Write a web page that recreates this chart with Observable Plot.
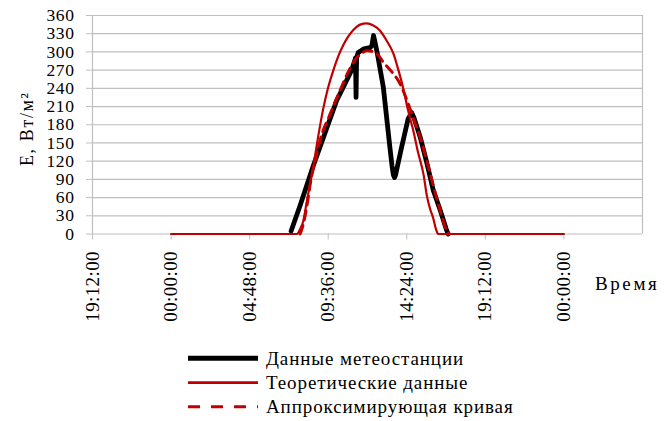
<!DOCTYPE html>
<html>
<head>
<meta charset="utf-8">
<script src="https://cdn.jsdelivr.net/npm/d3@7"></script>
<script src="https://cdn.jsdelivr.net/npm/@observablehq/plot@0.6"></script>
<style>
  body { margin: 0; background: #fff; }
  #chart { width: 668px; height: 421px; font-family: "Liberation Serif", "Times New Roman", serif; }
  #chart svg { display: block; overflow: visible; }
  g[aria-label="y-axis tick label"] text { letter-spacing: 0.6px; }
  .xlab text { letter-spacing: 0.4px; }
  .ytitle text { letter-spacing: 1.6px; }
  .xtitle text { letter-spacing: 2.6px; }
  .legend text { letter-spacing: 0.9px; }
</style>
</head>
<body>
<div id="chart"></div>
<script>
// Weather-station irradiance (time of day, W/m²)
const stationTime = ["07:20","07:53","08:41","10:07","10:38","11:02","11:13","11:16","11:18","11:20","11:26","11:47","12:09","12:16","12:22","12:28","12:35","12:58","13:22","13:30","13:35","13:39","13:43","13:48","14:05","14:29","14:42","14:50","15:13","15:37","16:01","16:26","16:50","16:56"];
const stationValue = [5, 47, 112, 220, 248, 270, 285, 290, 225, 290, 299, 305, 307, 310, 327, 315, 300, 242, 143, 112, 97, 93, 97, 108, 143, 190, 200, 192, 160, 118, 72, 40, 6, 0];

// Theoretical irradiance over the day
const theoryTime = ["00:00","07:41","07:53","08:05","08:18","08:41","08:59","09:18","09:35","09:55","10:13","10:31","11:08","11:33","11:57","12:20","12:46","13:11","13:35","13:52","14:11","14:28","14:48","15:05","15:25","15:38","15:49","16:01","16:11","16:19","24:00"];
const theoryValue = [0, 0, 8, 22, 55, 110, 160, 207, 240, 270, 293, 311, 336, 345, 347, 344, 335, 318, 297, 272, 240, 205, 170, 135, 99, 62, 42, 26, 8, 0, 0];

// Fitted (approximating) curve
const fitTime = ["07:53","08:04","08:17","08:33","08:54","09:13","09:36","09:57","10:19","10:55","11:20","11:39","11:58","12:16","12:35","12:58","13:35","14:00","14:18","14:37","14:51","15:13","15:37","16:01","16:26","16:48","16:59"];
const fitValue = [0, 15, 44, 90, 132, 165, 190, 213, 236, 272, 290, 298, 302, 301, 297, 283, 264, 247, 228, 205, 187, 160, 121, 80, 40, 8, 0];

// Axis ticks: x in fractions of a day (Excel-style serial time)
const xTicks = [-0.2, 0, 0.2, 0.4, 0.6, 0.8, 1.0];
const xTickLabels = ["19:12:00","00:00:00","04:48:00","09:36:00","14:24:00","19:12:00","00:00:00"];
const yTicks = [0, 30, 60, 90, 120, 150, 180, 210, 240, 270, 300, 330, 360];

const seriesNames = ["Данные метеостанции", "Теоретические данные", "Аппроксимирующая кривая"];
const red = "#c00000";
const grid = "#bfbfbf";
const font = '"Liberation Serif", "Times New Roman", serif';

const toDay = s => { const [h, m] = s.split(":").map(Number); return (h * 60 + m) / 1440; };
const rows = (times, values) => times.map((t, i) => ({t: toDay(t), v: values[i]}));

const station = rows(stationTime, stationValue);
const theory = rows(theoryTime, theoryValue);
const fit = rows(fitTime, fitValue);

const chart = Plot.plot({
  width: 668,
  height: 340,
  marginLeft: 92,
  marginRight: 26,
  marginTop: 15,
  marginBottom: 106.5,
  style: {fontFamily: font, background: "#fff", color: "#000"},
  x: {domain: [-0.2, 1.2]},
  y: {domain: [0, 360]},
  marks: [
    Plot.gridY(yTicks, {stroke: grid, strokeOpacity: 1, strokeWidth: 1.2}),
    Plot.ruleX([-0.2, 1.2], {stroke: grid, strokeWidth: 1.2}),
    Plot.axisY({ticks: yTicks, tickSize: 6, tickPadding: 12, stroke: grid, fill: "#000", fontSize: 17.5, label: null}),
    Plot.axisX({ticks: xTicks, tickSize: 6, tickFormat: () => "", stroke: grid, label: null}),
    Plot.text(xTicks, {
      x: d => d,
      text: d => xTickLabels[xTicks.findIndex(t => Math.abs(t - d) < 1e-9)],
      frameAnchor: "bottom", dy: 17, rotate: -90,
      textAnchor: "end", lineAnchor: "middle", fontSize: 19, fill: "#000",
      className: "xlab"
    }),
    Plot.text(["E, Вт/м²"], {
      frameAnchor: "left", dx: -65, dy: 4, rotate: -90,
      textAnchor: "middle", lineAnchor: "middle", fontSize: 18, fill: "#000",
      className: "ytitle"
    }),
    Plot.text(["Время"], {
      frameAnchor: "bottom-right", dx: -47.5, dy: 50,
      textAnchor: "start", lineAnchor: "middle", fontSize: 19, fill: "#000",
      className: "xtitle"
    }),
    Plot.line(station, {x: "t", y: "v", stroke: "#000", strokeWidth: 4.8, strokeLinejoin: "round", strokeLinecap: "round"}),
    Plot.line(theory, {x: "t", y: "v", stroke: red, strokeWidth: 2.2, strokeLinejoin: "round", curve: "monotone-x"}),
    Plot.line(fit, {x: "t", y: "v", stroke: red, strokeWidth: 3, strokeDasharray: "9,6", curve: "monotone-x"})
  ]
});

const root = document.getElementById("chart");
root.appendChild(chart);

// Legend below the chart
const legendSpec = [
  {name: seriesNames[0], stroke: "#000", width: 5, dash: null},
  {name: seriesNames[1], stroke: red, width: 2.8, dash: null},
  {name: seriesNames[2], stroke: red, width: 3, dash: "12,11"}
];
const legend = d3.create("svg")
  .attr("width", 668).attr("height", 81)
  .attr("class", "legend")
  .style("display", "block")
  .style("font-family", font);
const rowY = [18.3, 42.7, 66.7];
legendSpec.forEach((s, i) => {
  const g = legend.append("g").attr("transform", `translate(0,${rowY[i]})`);
  g.append("line").attr("x1", 188).attr("x2", 258).attr("y1", 0).attr("y2", 0)
    .attr("stroke", s.stroke).attr("stroke-width", s.width)
    .attr("stroke-dasharray", s.dash);
  g.append("text").attr("x", 266).attr("y", 0).attr("dy", "0.33em")
    .attr("font-size", 19).attr("fill", "#000").text(s.name);
});
root.appendChild(legend.node());
</script>
</body>
</html>
